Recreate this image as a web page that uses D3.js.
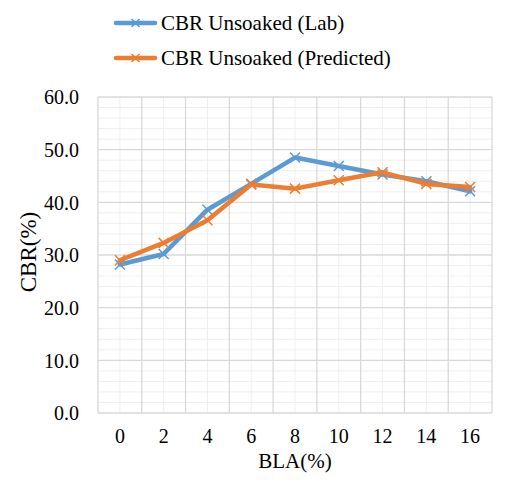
<!DOCTYPE html>
<html>
<head>
<meta charset="utf-8">
<script src="https://cdnjs.cloudflare.com/ajax/libs/d3/7.8.5/d3.min.js"></script>
</head>
<body style="margin:0; background:#fff">
<div id="chart"></div>
<script>
// data
var categories = ["0", "2", "4", "6", "8", "10", "12", "14", "16"];
var labValues = [28.2, 30.2, 38.6, 43.5, 48.5, 46.9, 45.3, 44.0, 42.1];
var predictedValues = [29.0, 32.3, 36.6, 43.4, 42.6, 44.2, 45.7, 43.5, 42.9];
var seriesNames = ["CBR Unsoaked (Lab)", "CBR Unsoaked (Predicted)"];
var yTicks = [0, 10, 20, 30, 40, 50, 60];

var serif = "'Liberation Serif', 'Times New Roman', serif";
var width = 519, height = 489;
var margin = {top: 97, right: 27, bottom: 76, left: 98};
var w = width - margin.left - margin.right;
var h = height - margin.top - margin.bottom;

var svg = d3.select("#chart").append("svg")
    .attr("width", width)
    .attr("height", height);

var g = svg.append("g")
    .attr("transform", "translate(" + margin.left + "," + margin.top + ")");

var x = d3.scaleBand().domain(categories).range([0, w]);
var y = d3.scaleLinear().domain([0, 60]).range([h, 0]);

// minor grid: horizontal every 2, vertical at category centers
g.append("g").selectAll("line")
    .data(d3.range(2, 60, 2).filter(function(v) { return v % 10 !== 0; }))
  .enter().append("line")
    .attr("x1", 0).attr("x2", w)
    .attr("y1", function(d) { return y(d); })
    .attr("y2", function(d) { return y(d); })
    .style("stroke", "#efefef").style("stroke-width", 1);

g.append("g").selectAll("line")
    .data(categories)
  .enter().append("line")
    .attr("x1", function(d) { return x(d) + x.bandwidth() / 2; })
    .attr("x2", function(d) { return x(d) + x.bandwidth() / 2; })
    .attr("y1", 0).attr("y2", h)
    .style("stroke", "#efefef").style("stroke-width", 1);

// major grid
g.append("g").selectAll("line")
    .data(yTicks)
  .enter().append("line")
    .attr("x1", 0).attr("x2", w)
    .attr("y1", function(d) { return y(d); })
    .attr("y2", function(d) { return y(d); })
    .style("stroke", "#d9d9d9").style("stroke-width", 1.3);

g.append("g").selectAll("line")
    .data(categories.concat(["end"]))
  .enter().append("line")
    .attr("x1", function(d, i) { return i * x.step(); })
    .attr("x2", function(d, i) { return i * x.step(); })
    .attr("y1", 0).attr("y2", h)
    .style("stroke", "#d9d9d9").style("stroke-width", 1.3);

// axes labels
var yAxis = d3.axisLeft(y).tickValues(yTicks).tickSize(0).tickPadding(19)
    .tickFormat(d3.format(".1f"));
var yg = g.append("g").call(yAxis);
yg.select(".domain").remove();
yg.selectAll("text").style("font-size", "20px").style("font-family", serif).attr("dy", "0.34em");

var xAxis = d3.axisBottom(x).tickSize(0).tickPadding(16);
var xg = g.append("g").attr("transform", "translate(0," + h + ")").call(xAxis);
xg.select(".domain").remove();
xg.selectAll("text").style("font-size", "20px").style("font-family", serif);

svg.append("text")
    .attr("x", margin.left + w / 2)
    .attr("y", 468)
    .attr("text-anchor", "middle")
    .style("font-family", serif)
    .style("font-size", "21px")
    .text("BLA(%)");

svg.append("text")
    .attr("transform", "translate(36,252) rotate(-90)")
    .attr("text-anchor", "middle")
    .style("font-family", serif)
    .style("font-size", "23px")
    .text("CBR(%)");

// series
var colors = ["#5b9bd5", "#ed7d31"];
var series = [labValues, predictedValues];

var line = d3.line()
    .x(function(d, i) { return x(categories[i]) + x.bandwidth() / 2; })
    .y(function(d) { return y(d); });

series.forEach(function(vals, s) {
  g.append("path")
      .datum(vals)
      .attr("d", line)
      .style("fill", "none")
      .style("stroke", colors[s])
      .style("stroke-width", 4.5)
      .style("stroke-linejoin", "round")
      .style("stroke-linecap", "round");

  var m = 5;
  g.append("g").selectAll("path")
      .data(vals)
    .enter().append("path")
      .attr("transform", function(d, i) {
        return "translate(" + (x(categories[i]) + x.bandwidth() / 2) + "," + y(d) + ")";
      })
      .attr("d", "M" + -m + "," + -m + "L" + m + "," + m + "M" + -m + "," + m + "L" + m + "," + -m)
      .style("stroke", colors[s])
      .style("stroke-width", 1.5);
});

// legend
var legend = svg.append("g");
seriesNames.forEach(function(name, i) {
  var ly = 23 + i * 35;
  legend.append("line")
      .attr("x1", 116).attr("x2", 155)
      .attr("y1", ly).attr("y2", ly)
      .style("stroke", colors[i]).style("stroke-width", 4.5)
      .style("stroke-linecap", "round");
  legend.append("path")
      .attr("transform", "translate(135.5," + ly + ")")
      .attr("d", "M-4,-4L4,4M-4,4L4,-4")
      .style("stroke", colors[i]).style("stroke-width", 1.5);
  legend.append("text")
      .attr("x", 161)
      .attr("y", ly + 7)
      .style("font-family", serif)
      .style("font-size", "21px")
      .text(name);
});
</script>
</body>
</html>
